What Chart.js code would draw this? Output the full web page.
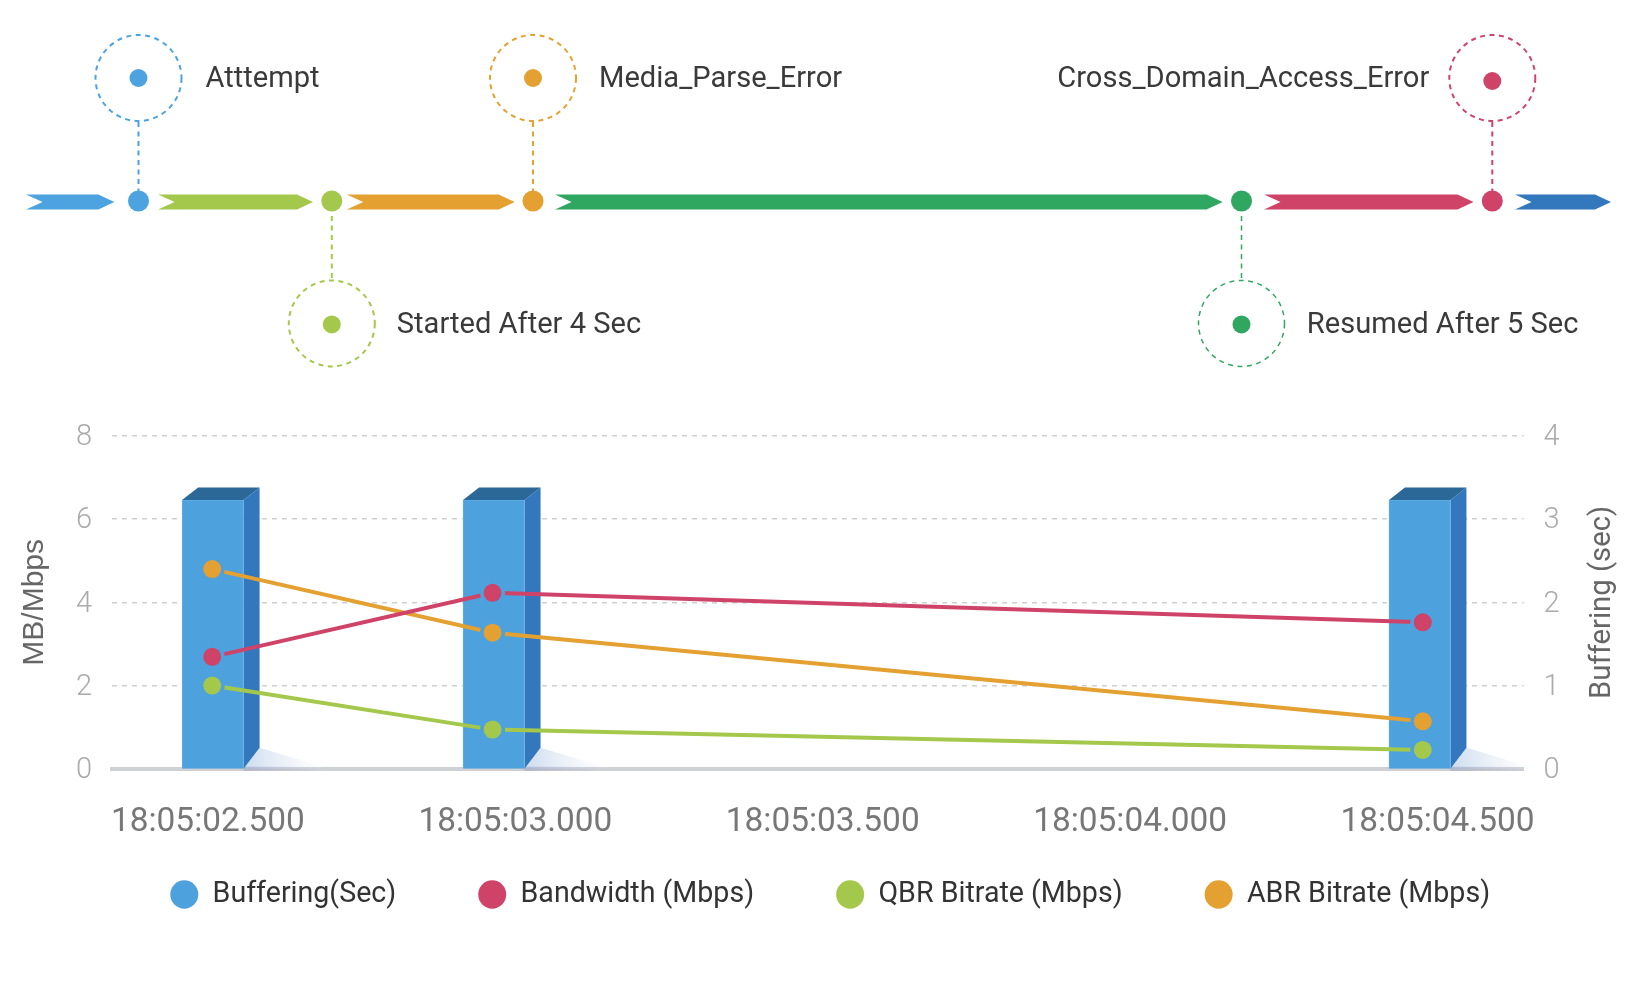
<!DOCTYPE html>
<html>
<head>
<meta charset="utf-8" />
<title>Session timeline</title>
<script src="https://cdn.jsdelivr.net/npm/chart.js@4"></script>
<style>
  html, body { margin: 0; padding: 0; background: #ffffff; }
  canvas { display: block; }
</style>
</head>
<body>
<canvas id="timeline" width="1646" height="395"></canvas>
<canvas id="myChart" width="1646" height="597"></canvas>
<script>
// timeline events
const eventNames = ["Atttempt", "Started After 4 Sec", "Media_Parse_Error", "Resumed After 5 Sec", "Cross_Domain_Access_Error"];
const eventPos = [138.5, 331.8, 533, 1241.5, 1492.3];
const eventColors = ["#4da3df", "#a3c84b", "#e4a030", "#30a760", "#cf4369"];
const segStart = [26, 158, 346.7, 555, 1264, 1515];
const segEnd = [114.4, 313, 514.7, 1222.6, 1473.5, 1611];
const segColors = ["#4da3df", "#a3c84b", "#e4a030", "#30a760", "#cf4369", "#3377bd"];
const labelOffset = [67, 65, 66, 65.3, -63];

// main chart
const tickTimes = ["18:05:02.500", "18:05:03.000", "18:05:03.500", "18:05:04.000", "18:05:04.500"];
const barTimes = ["18:05:02.508", "18:05:02.965", "18:05:04.471"];
const lineTimes = ["18:05:02.507", "18:05:02.963", "18:05:04.476"];
const buffering = [3.23, 3.23, 3.23];
const bandwidth = [2.69, 4.23, 3.52];
const qbrBitrate = [2.0, 0.94, 0.45];
const abrBitrate = [4.8, 3.27, 1.14];

function toMs(t) {
  var p = t.split(":");
  return (parseInt(p[0]) * 3600 + parseInt(p[1]) * 60 + parseFloat(p[2])) * 1000;
}

function zip(times, values) {
  return times.map((t, i) => ({ x: toMs(t), y: values[i] }));
}

// ---------- top timeline ----------
const trackY = 202;
const upperY = 78;
const lowerY = 323.4;
const isUpper = (i) => i % 2 === 0;

const timelinePlugin = {
  id: "timelineShapes",
  beforeDatasetsDraw(chart) {
    const ctx = chart.ctx;
    const x = chart.scales.x;
    const y = chart.scales.y;

    segStart.forEach((s, i) => {
      const x0 = x.getPixelForValue(s);
      const x1 = x.getPixelForValue(segEnd[i]);
      const top = y.getPixelForValue(trackY - 7.5);
      const bot = y.getPixelForValue(trackY + 7.5);
      const mid = (top + bot) / 2;
      ctx.fillStyle = segColors[i];
      ctx.beginPath();
      ctx.moveTo(x0, top);
      ctx.lineTo(x1 - 16, top);
      ctx.lineTo(x1, mid);
      ctx.lineTo(x1 - 16, bot);
      ctx.lineTo(x0, bot);
      ctx.lineTo(x0 + 16.5, mid);
      ctx.closePath();
      ctx.fill();
    });

    eventPos.forEach((p, i) => {
      const px = x.getPixelForValue(p);
      const cy = y.getPixelForValue(isUpper(i) ? upperY : lowerY);
      ctx.save();
      ctx.strokeStyle = eventColors[i];
      ctx.lineWidth = i === 3 ? 1.5 : 2;
      ctx.setLineDash([5, 4.5]);
      ctx.beginPath();
      ctx.arc(px, cy, 43, 0, Math.PI * 2);
      ctx.stroke();
      ctx.beginPath();
      if (isUpper(i)) {
        ctx.moveTo(px, cy + 44);
        ctx.lineTo(px, y.getPixelForValue(trackY - 11));
      } else {
        ctx.moveTo(px, y.getPixelForValue(trackY + 14));
        ctx.lineTo(px, cy - 44);
      }
      ctx.stroke();
      ctx.restore();

      ctx.fillStyle = "#3a3a3a";
      ctx.font = "400 29.1px Roboto";
      ctx.textBaseline = "middle";
      ctx.textAlign = labelOffset[i] < 0 ? "right" : "left";
      ctx.fillText(eventNames[i], px + labelOffset[i], cy + 2);
    });
  },
};

new Chart(document.getElementById("timeline"), {
  type: "scatter",
  data: {
    datasets: [
      {
        data: eventPos.map((p) => ({ x: p, y: trackY - 1 })),
        backgroundColor: eventColors,
        borderWidth: 0,
        pointRadius: 10.5,
      },
      {
        data: eventPos.map((p, i) => ({ x: p, y: isUpper(i) ? (i === 4 ? upperY + 3 : upperY) : lowerY + 1 })),
        backgroundColor: eventColors,
        borderWidth: 0,
        pointRadius: 9,
      },
    ],
  },
  options: {
    responsive: false,
    animation: false,
    layout: { padding: 0, autoPadding: false },
    plugins: { legend: { display: false }, tooltip: { enabled: false } },
    scales: {
      x: { type: "linear", display: false, min: 0, max: 1646 },
      y: { type: "linear", display: false, min: 0, max: 395, reverse: true },
    },
  },
  plugins: [timelinePlugin],
});

// ---------- buffering / bitrate chart ----------
const pointGap = 12.5;

const shapesPlugin = {
  id: "barShapes",
  afterLayout(chart) {
    // legend sits closer to the axis than its item padding allows
    chart.legend.top -= 48.5;
    chart.legend.bottom -= 48.5;
  },
  beforeDatasetDraw(chart, args) {
    const ctx = chart.ctx;
    const meta = args.meta;

    if (meta.type === "bar") {
      const dx = 16;
      const dy = 12.5;
      const rise = 21;
      meta.data.forEach((bar) => {
        const right = bar.x + bar.width / 2;
        const left = bar.x - bar.width / 2;

        // floor shadow
        const shade = ctx.createLinearGradient(right, 0, right + dx + 70, 0);
        shade.addColorStop(0, "#cddcee");
        shade.addColorStop(1, "rgba(235,241,249,0)");
        ctx.fillStyle = shade;
        ctx.beginPath();
        ctx.moveTo(right, bar.base);
        ctx.lineTo(right + dx, bar.base - rise);
        ctx.lineTo(right + dx + 70, bar.base);
        ctx.closePath();
        ctx.fill();
        const floor = ctx.createLinearGradient(right, 0, right + dx + 60, 0);
        floor.addColorStop(0, "rgba(120,125,170,0.35)");
        floor.addColorStop(1, "rgba(120,125,170,0)");
        ctx.fillStyle = floor;
        ctx.fillRect(right, bar.base - 2, dx + 60, 4);

        // side face
        ctx.fillStyle = "#3377bd";
        ctx.beginPath();
        ctx.moveTo(right, bar.y);
        ctx.lineTo(right + dx, bar.y - dy);
        ctx.lineTo(right + dx, bar.base - rise);
        ctx.lineTo(right, bar.base);
        ctx.closePath();
        ctx.fill();

        // top face
        ctx.fillStyle = "#2b6797";
        ctx.beginPath();
        ctx.moveTo(left, bar.y);
        ctx.lineTo(left + dx, bar.y - dy);
        ctx.lineTo(right + dx, bar.y - dy);
        ctx.lineTo(right, bar.y);
        ctx.closePath();
        ctx.fill();
      });
      return;
    }

    // lines stop short of their points
    ctx.save();
    ctx.beginPath();
    ctx.rect(0, 0, chart.width, chart.height);
    meta.data.forEach((p) => {
      ctx.moveTo(p.x + pointGap, p.y);
      ctx.arc(p.x, p.y, pointGap, 0, Math.PI * 2);
    });
    ctx.clip("evenodd");
  },
  afterDatasetDraw(chart, args) {
    if (args.meta.type !== "line") return;
    chart.ctx.restore();
    args.meta.data.forEach((p) => p.draw(chart.ctx, chart.chartArea));
  },
  afterDraw(chart) {
    const ctx = chart.ctx;
    const area = chart.chartArea;
    ctx.save();
    ctx.translate(1603, (area.top + area.bottom) / 2);
    ctx.rotate(-Math.PI / 2);
    ctx.fillStyle = "#666666";
    ctx.font = "400 29.3px Roboto";
    ctx.textAlign = "center";
    ctx.textBaseline = "middle";
    ctx.fillText("Buffering (sec)", 0, 0);
    ctx.restore();
  },
};

function lineSet(label, values, color, order) {
  return {
    type: "line",
    label: label,
    data: zip(lineTimes, values),
    borderColor: color,
    backgroundColor: color,
    borderWidth: 4,
    pointRadius: 9,
    pointBorderWidth: 0,
    tension: 0,
    yAxisID: "y",
    order: order,
  };
}

new Chart(document.getElementById("myChart"), {
  data: {
    datasets: [
      {
        type: "bar",
        label: "Buffering(Sec)",
        data: zip(barTimes, buffering),
        backgroundColor: "#4da1dd",
        borderColor: "#62aee3",
        borderWidth: 1,
        barThickness: 61.5,
        yAxisID: "y1",
        order: 10,
      },
      lineSet("Bandwidth (Mbps)", bandwidth, "#cf4369", 1),
      lineSet("QBR Bitrate (Mbps)", qbrBitrate, "#a3c84b", 3),
      lineSet("ABR Bitrate (Mbps)", abrBitrate, "#e4a030", 2),
    ],
  },
  options: {
    responsive: false,
    animation: false,
    layout: { autoPadding: false, padding: { top: 41, left: 14.4, right: 0, bottom: 24.7 } },
    plugins: {
      tooltip: { enabled: false },
      legend: {
        position: "bottom",
        labels: {
          usePointStyle: true,
          pointStyle: "circle",
          pointStyleWidth: 28,
          boxHeight: 20,
          padding: 82,
          color: "#333333",
          font: { family: "Roboto", size: 28.6 },
          sort: (a, b) => a.datasetIndex - b.datasetIndex,
          generateLabels: (c) =>
            Chart.defaults.plugins.legend.labels.generateLabels(c).map((item) => ({ ...item, lineWidth: 0 })),
        },
      },
    },
    scales: {
      x: {
        type: "linear",
        offset: false,
        min: toMs("18:05:02.344"),
        max: toMs("18:05:04.640"),
        grid: { display: false },
        border: { display: true, color: "#cfd0d4", width: 4 },
        afterBuildTicks: (s) => {
          s.ticks = tickTimes.map((t) => ({ value: toMs(t) }));
        },
        afterFit: (s) => {
          s.height = 78;
        },
        ticks: {
          autoSkip: false,
          maxRotation: 0,
          padding: 26,
          color: "#777777",
          font: { family: "Roboto", size: 33.4 },
          callback: (value, index) => tickTimes[index],
        },
      },
      y: {
        position: "left",
        min: 0,
        max: 8,
        grid: { color: "#cfcfcf", lineWidth: 1.5, tickLength: 0 },
        border: { display: false, dash: [5, 5] },
        afterFit: (s) => {
          s.width = 97.6;
        },
        ticks: {
          stepSize: 2,
          padding: 20,
          labelOffset: 2,
          color: "#aaaaaa",
          font: { family: "Roboto", size: 29, weight: "300" },
        },
        title: {
          display: true,
          text: "MB/Mbps",
          color: "#666666",
          padding: 0,
          font: { family: "Liberation Sans", size: 30, lineHeight: 1.37 },
        },
      },
      y1: {
        position: "right",
        min: 0,
        max: 4,
        grid: { display: false },
        border: { display: false },
        afterFit: (s) => {
          s.width = 122.4;
        },
        ticks: {
          stepSize: 1,
          padding: 12,
          labelOffset: 2,
          color: "#aaaaaa",
          font: { family: "Roboto", size: 29, weight: "300" },
        },
      },
    },
  },
  plugins: [shapesPlugin],
});
</script>
</body>
</html>
